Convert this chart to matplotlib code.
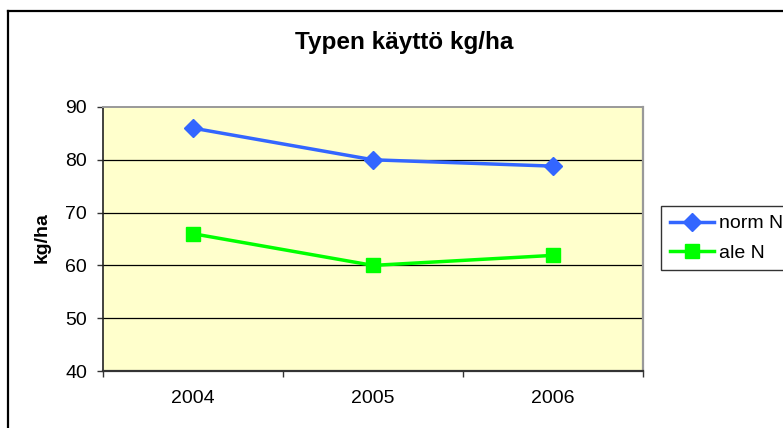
import matplotlib
matplotlib.use("Agg")
import matplotlib.pyplot as plt
from matplotlib.lines import Line2D

years = ["2004", "2005", "2006"]
norm_n = [86, 80, 78.8]
ale_n = [66, 60, 61.9]
series_labels = ["norm N", "ale N"]
title = "Typen käyttö kg/ha"
ylabel = "kg/ha"
yticks = [40, 50, 60, 70, 80, 90]

plt.rcParams['font.family'] = ['Liberation Sans', 'DejaVu Sans']

W, H = 783, 428
fig = plt.figure(figsize=(W / 100, H / 100), dpi=100)
fig.patch.set_facecolor('white')

# outer chart border (left and top visible)
fig.add_artist(Line2D([8 / W, 8 / W], [0, 1 - 11 / H], color='black', lw=1.6, transform=fig.transFigure))
fig.add_artist(Line2D([8 / W, 1], [1 - 11 / H, 1 - 11 / H], color='black', lw=1.6, transform=fig.transFigure))

ax = fig.add_axes([103 / W, 1 - 371 / H, 540 / W, 264 / H])
ax.set_facecolor('#FFFFCC')

x = list(range(len(years)))
ax.plot(x, norm_n, color='#3366FF', lw=2.5, marker='D', markersize=9.5,
        markerfacecolor='#3366FF', markeredgecolor='#3366FF', label=series_labels[0], zorder=3)
ax.plot(x, ale_n, color='#00FF00', lw=2.5, marker='s', markersize=10.5,
        markerfacecolor='#00FF00', markeredgecolor='#00FF00', label=series_labels[1], zorder=3)

ax.set_xlim(-0.5, len(years) - 0.5)
ax.set_ylim(40, 90)
ax.set_yticks(yticks)
ax.set_yticklabels([str(v) for v in yticks])
for v in yticks[1:-1]:
    ax.axhline(v, color='black', lw=0.9, zorder=1)

ax.set_xticks([i - 0.5 for i in range(len(years) + 1)])
ax.set_xticklabels([''] * (len(years) + 1))
ax.set_xticks(x, minor=True)
ax.set_xticklabels(years, minor=True)
ax.tick_params(axis='x', which='major', direction='out', length=4.5, width=1, color='#333333')
ax.tick_params(axis='x', which='minor', length=0, pad=14, labelsize=14)
ax.tick_params(axis='y', direction='out', length=4.5, width=1, color='#333333', pad=7, labelsize=14)

ax.spines['left'].set_color('#222222')
ax.spines['bottom'].set_color('#333333')
ax.spines['left'].set_linewidth(1.2)
ax.spines['bottom'].set_linewidth(1.6)
ax.spines['top'].set_color('#999999')
ax.spines['right'].set_color('#999999')
ax.spines['top'].set_linewidth(1.4)
ax.spines['right'].set_linewidth(1.6)

fig.text(404 / W, 1 - 43 / H, title, ha='center', va='center', fontsize=17.5, fontweight='bold')
fig.text(42 / W, 1 - 238 / H, ylabel, ha='center', va='center', rotation=90, fontsize=14, fontweight='bold')

leg = fig.legend(loc='upper left', bbox_to_anchor=(661 / W, 1 - 206 / H), bbox_transform=fig.transFigure,
                 fontsize=14, frameon=True, fancybox=False, borderpad=0.45, handlelength=2.3,
                 handletextpad=0.25, labelspacing=0.6, borderaxespad=0)
leg.get_frame().set_edgecolor('black')
leg.get_frame().set_linewidth(1.0)

fig.savefig('out.png', dpi=100)
